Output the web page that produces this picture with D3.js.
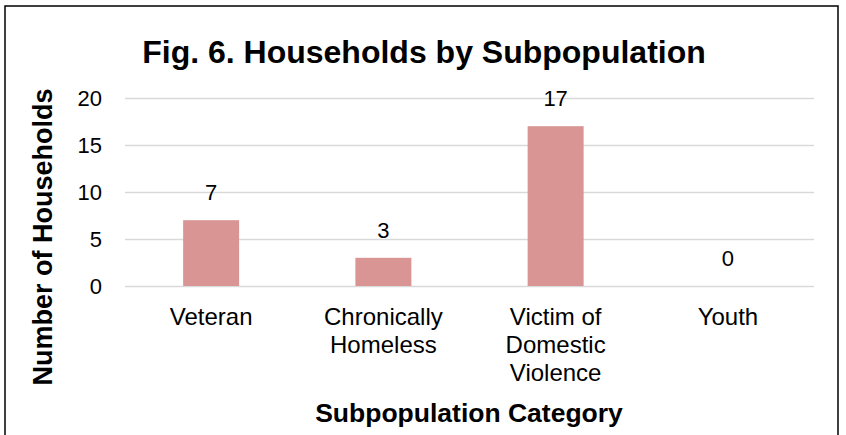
<!DOCTYPE html>
<meta charset="utf-8">
<style>
body { margin: 0; background: #fff; }
svg { display: block; font-family: "Liberation Sans", Arial, Helvetica, sans-serif; }
.grid line { stroke: #d9d9d9; stroke-width: 1.5px; }
.grid .domain { display: none; }
.bar { fill: #d99594; }
</style>
<body>
<script src="https://d3js.org/d3.v7.min.js"></script>
<script>
// chart data
const categories = ["Veteran", "Chronically\nHomeless", "Victim of\nDomestic\nViolence", "Youth"];
const values = [7, 3, 17, 0];
const yTicks = [0, 5, 10, 15, 20];

const width = 846, height = 435;
const plot = { left: 125, right: 814, top: 98, bottom: 286 };

const svg = d3.select("body").append("svg")
    .attr("width", width)
    .attr("height", height);

svg.append("rect")
    .attr("width", width).attr("height", height)
    .attr("fill", "#fff");

// outer frame (bottom edge runs off the picture)
svg.append("rect")
    .attr("x", 5).attr("y", 6)
    .attr("width", 833).attr("height", 460)
    .attr("fill", "none")
    .attr("stroke", "#000")
    .attr("stroke-width", 1.5);

var x = d3.scaleBand()
    .domain(categories)
    .range([plot.left, plot.right])
    .paddingInner(0.675)
    .paddingOuter(0.3375);

var y = d3.scaleLinear()
    .domain([0, 20])
    .range([plot.bottom, plot.top]);

// gridlines + y tick labels
var gy = svg.append("g")
    .attr("class", "grid")
    .attr("transform", "translate(" + plot.left + ",0)")
    .call(d3.axisLeft(y)
      .tickValues(yTicks)
      .tickSize(-(plot.right - plot.left))
      .tickPadding(23));

gy.selectAll("text")
    .attr("fill", "#000")
    .style("font-size", "22px")
    .style("font-family", "Liberation Sans, Arial, sans-serif");

// bars
svg.selectAll(".bar")
    .data(values)
  .enter().append("rect")
    .attr("class", "bar")
    .attr("x", (d, i) => x(categories[i]))
    .attr("width", x.bandwidth())
    .attr("y", d => y(d))
    .attr("height", d => y(0) - y(d));

// value labels
svg.selectAll(".val")
    .data(values)
  .enter().append("text")
    .attr("class", "val")
    .attr("x", (d, i) => x(categories[i]) + x.bandwidth() / 2)
    .attr("y", d => y(d) - 20)
    .attr("text-anchor", "middle")
    .style("font-size", "22px")
    .text(d => d);

// category labels
var gx = svg.append("g")
    .attr("transform", "translate(0," + plot.bottom + ")")
    .call(d3.axisBottom(x).tickSize(0).tickPadding(0));

gx.select(".domain").remove();

gx.selectAll("text").each(function(d) {
  var t = d3.select(this)
      .attr("y", 39)
      .attr("dy", null)
      .attr("fill", "#000")
      .style("font-size", "24px")
      .style("font-family", "Liberation Sans, Arial, sans-serif")
      .text(null);
  d.split("\n").forEach(function(line, i) {
    t.append("tspan")
        .attr("x", 0)
        .attr("dy", i ? 28 : 0)
        .text(line);
  });
});

// title
svg.append("text")
    .attr("x", 424)
    .attr("y", 63)
    .attr("text-anchor", "middle")
    .style("font-size", "32px")
    .style("font-weight", "bold")
    .text("Fig. 6. Households by Subpopulation");

// axis titles
svg.append("text")
    .attr("transform", "translate(52,237) rotate(-90)")
    .attr("text-anchor", "middle")
    .style("font-size", "27px")
    .style("font-weight", "bold")
    .text("Number of Households");

svg.append("text")
    .attr("x", 469)
    .attr("y", 422)
    .attr("text-anchor", "middle")
    .style("font-size", "26.5px")
    .style("font-weight", "bold")
    .text("Subpopulation Category");
</script>
